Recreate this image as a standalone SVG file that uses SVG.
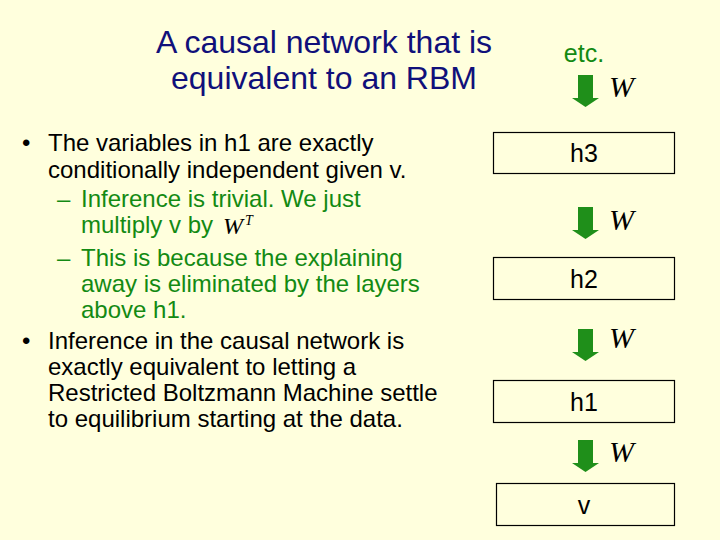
<svg xmlns="http://www.w3.org/2000/svg" width="720" height="540" viewBox="0 0 720 540">
<defs>
<style>
.bg{fill:#FFFFDD}
.title{font-family:"Liberation Sans",Arial,sans-serif;font-size:32px;fill:#10107A;text-anchor:middle}
.body{font-family:"Liberation Sans",Arial,sans-serif;font-size:24px;fill:#000}
.sub{font-family:"Liberation Sans",Arial,sans-serif;font-size:24px;fill:#138A13}
.box{fill:none;stroke:#000;stroke-width:1.2}
.lbl{font-family:"Liberation Sans",Arial,sans-serif;font-size:25px;fill:#000;text-anchor:middle}
.etc{font-family:"Liberation Sans",Arial,sans-serif;font-size:25px;fill:#138A13;text-anchor:middle}
.w{font-family:"Liberation Serif","Times New Roman",serif;font-style:italic;font-size:30px;fill:#000}
.wt{font-family:"Liberation Serif","Times New Roman",serif;font-style:italic;fill:#000}
.arrow{fill:#1F8F1A}
</style>
<path id="arr" d="M-7.5,0 H7.5 V23 H13.5 L0,32 L-13.5,23 H-7.5 Z"/>
</defs>
<rect class="bg" x="0" y="0" width="720" height="540"/>

<g id="title">
<text class="title" x="324" y="53">A causal network that is</text>
<text class="title" x="324" y="89">equivalent to an RBM</text>
</g>

<g id="bullets">
<text class="body" x="22" y="151">•</text>
<text class="body" x="48" y="151">The variables in h1 are exactly</text>
<text class="body" x="48" y="178">conditionally independent given v.</text>
<text class="sub" x="57" y="207">–</text>
<text class="sub" x="81" y="207">Inference is trivial. We just</text>
<text class="sub" x="81" y="233">multiply v by</text>
<text class="wt" x="223" y="234" font-size="24">W</text>
<text class="wt" x="245" y="225" font-size="14">T</text>
<text class="sub" x="57" y="266">–</text>
<text class="sub" x="81" y="266">This is because the explaining</text>
<text class="sub" x="81" y="292">away is eliminated by the layers</text>
<text class="sub" x="81" y="318">above h1.</text>
<text class="body" x="22" y="349">•</text>
<text class="body" x="48" y="349">Inference in the causal network is</text>
<text class="body" x="48" y="375">exactly equivalent to letting a</text>
<text class="body" x="48" y="401">Restricted Boltzmann Machine settle</text>
<text class="body" x="48" y="427">to equilibrium starting at the data.</text>
</g>

<g id="etc">
<text class="etc" x="584" y="62">etc.</text>
</g>
<g id="h3">
<rect class="box" x="493.5" y="132.5" width="181" height="41"/>
<text class="lbl" x="584" y="162">h3</text>
</g>
<g id="h2">
<rect class="box" x="493.5" y="257.5" width="181" height="42"/>
<text class="lbl" x="584" y="288">h2</text>
</g>
<g id="h1">
<rect class="box" x="493.5" y="380.5" width="181" height="42"/>
<text class="lbl" x="584" y="411">h1</text>
</g>
<g id="v">
<rect class="box" x="496.5" y="483.5" width="178" height="42"/>
<text class="lbl" x="584" y="514">v</text>
</g>

<g id="connectors">
<use href="#arr" class="arrow" x="585.5" y="75"/>
<text class="w" x="609" y="97">W</text>
<use href="#arr" class="arrow" x="585.5" y="207"/>
<text class="w" x="609" y="230">W</text>
<use href="#arr" class="arrow" x="585.5" y="329"/>
<text class="w" x="609" y="348">W</text>
<use href="#arr" class="arrow" x="585.5" y="440"/>
<text class="w" x="609" y="462">W</text>
</g>
</svg>
